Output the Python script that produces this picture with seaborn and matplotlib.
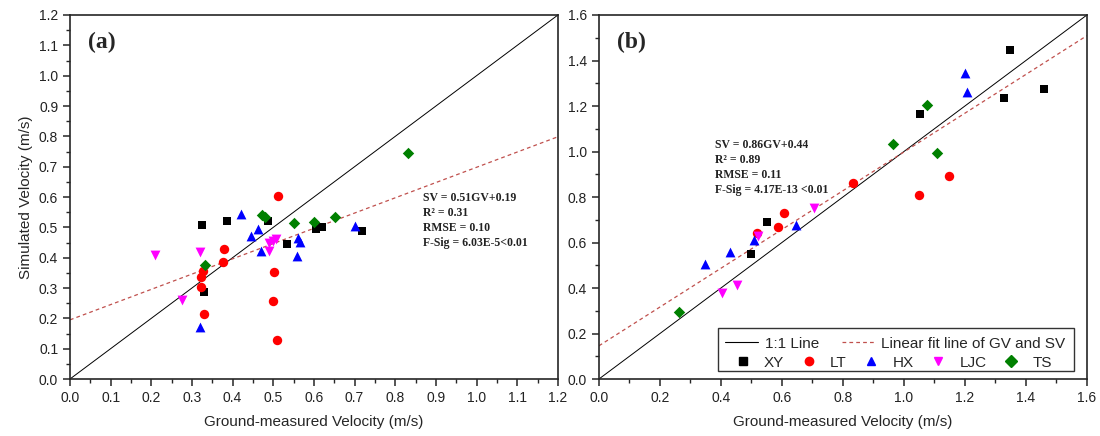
import numpy as np
import pandas as pd
import matplotlib
matplotlib.use("Agg")
import matplotlib.pyplot as plt
import seaborn as sns
from matplotlib.lines import Line2D
from matplotlib.patches import Rectangle
from matplotlib.ticker import MultipleLocator, FormatStrFormatter

# 站点（sites）
SITES = ["XY", "LT", "HX", "LJC", "TS"]

# Panel (a): ground-measured vs simulated velocity
A_XY_GV = [0.325, 0.385, 0.488, 0.534, 0.606, 0.620, 0.718, 0.330]
A_XY_SV = [0.507, 0.521, 0.521, 0.444, 0.496, 0.500, 0.487, 0.287]
A_LT_GV = [0.511, 0.379, 0.377, 0.327, 0.323, 0.323, 0.329, 0.501, 0.500, 0.508]
A_LT_SV = [0.603, 0.430, 0.385, 0.355, 0.335, 0.302, 0.214, 0.352, 0.257, 0.128]
A_HX_GV = [0.421, 0.462, 0.446, 0.469, 0.561, 0.565, 0.558, 0.700, 0.320]
A_HX_SV = [0.543, 0.494, 0.472, 0.423, 0.464, 0.451, 0.406, 0.505, 0.172]
A_LJC_GV = [0.210, 0.320, 0.275, 0.490, 0.507, 0.490, 0.500]
A_LJC_SV = [0.408, 0.419, 0.261, 0.447, 0.462, 0.422, 0.455]
A_TS_GV = [0.473, 0.480, 0.550, 0.600, 0.653, 0.332, 0.832]
A_TS_SV = [0.541, 0.533, 0.513, 0.519, 0.533, 0.376, 0.745]
A_FIT = (0.503, 0.195)
A_STATS = ["SV = 0.51GV+0.19", "R² = 0.31", "RMSE = 0.10", "F-Sig = 6.03E-5<0.01"]

# Panel (b)
B_XY_GV = [1.053, 0.550, 0.500, 1.348, 1.328, 1.459]
B_XY_SV = [1.165, 0.692, 0.551, 1.446, 1.235, 1.276]
B_LT_GV = [1.049, 0.834, 0.608, 0.588, 0.519, 1.148]
B_LT_SV = [0.808, 0.861, 0.731, 0.668, 0.643, 0.892]
B_HX_GV = [0.647, 0.510, 0.429, 0.348, 1.200, 1.208]
B_HX_SV = [0.675, 0.610, 0.560, 0.507, 1.343, 1.263]
B_LJC_GV = [0.704, 0.522, 0.404, 0.453]
B_LJC_SV = [0.750, 0.627, 0.379, 0.414]
B_TS_GV = [1.077, 0.963, 1.110, 0.262]
B_TS_SV = [1.205, 1.034, 0.994, 0.295]
B_FIT = (0.852, 0.146)
B_STATS = ["SV = 0.86GV+0.44", "R² = 0.89", "RMSE = 0.11", "F-Sig = 4.17E-13 <0.01"]

COLORS = {"XY": "black", "LT": "#ff0000", "HX": "#0000ff", "LJC": "#ff00ff", "TS": "#008000"}
MARKERS = {"XY": "s", "LT": "o", "HX": "^", "LJC": "v", "TS": "D"}
MSIZE = {"XY": 38, "LT": 46, "HX": 50, "LJC": 50, "TS": 34}
FIT_COLOR = "#c0504d"


def make_frame(gv_lists, sv_lists):
    rows = []
    for site, gv, sv in zip(SITES, gv_lists, sv_lists):
        for g, s in zip(gv, sv):
            rows.append({"site": site, "gv": g, "sv": s})
    return pd.DataFrame(rows)


df_a = make_frame([A_XY_GV, A_LT_GV, A_HX_GV, A_LJC_GV, A_TS_GV],
                  [A_XY_SV, A_LT_SV, A_HX_SV, A_LJC_SV, A_TS_SV])
df_b = make_frame([B_XY_GV, B_LT_GV, B_HX_GV, B_LJC_GV, B_TS_GV],
                  [B_XY_SV, B_LT_SV, B_HX_SV, B_LJC_SV, B_TS_SV])

sns.set_style("ticks")
plt.rcParams["font.family"] = ["Liberation Sans", "DejaVu Sans"]

fig = plt.figure(figsize=(11, 4.36), dpi=100)
ax_a = fig.add_axes([0.0636, 0.1307, 0.4436, 0.8349])
ax_b = fig.add_axes([0.5445, 0.1307, 0.4436, 0.8349])


def draw_panel(ax, df, lim, major, minor, fit, label, stats, stats_xy):
    xs = np.array([0, lim])
    ax.plot(xs, xs, color="black", lw=0.7, zorder=1)
    ax.plot(xs, fit[0] * xs + fit[1], color=FIT_COLOR, lw=0.9,
            linestyle=(0, (3, 2.5)), zorder=1)
    for site in SITES:
        sub = df[df["site"] == site]
        sns.scatterplot(data=sub, x="gv", y="sv", color=COLORS[site],
                        marker=MARKERS[site], s=MSIZE[site], linewidth=0,
                        ax=ax, legend=False, zorder=3)
    ax.set_xlim(0, lim)
    ax.set_ylim(0, lim)
    ax.xaxis.set_major_locator(MultipleLocator(major))
    ax.xaxis.set_minor_locator(MultipleLocator(minor))
    ax.yaxis.set_major_locator(MultipleLocator(major))
    ax.yaxis.set_minor_locator(MultipleLocator(minor))
    ax.xaxis.set_major_formatter(FormatStrFormatter("%.1f"))
    ax.yaxis.set_major_formatter(FormatStrFormatter("%.1f"))
    ax.tick_params(which="major", direction="out", length=5, width=1.1,
                   labelsize=10, labelcolor="#222222")
    ax.tick_params(which="minor", direction="out", length=3, width=1.0)
    for sp in ax.spines.values():
        sp.set_linewidth(1.2)
        sp.set_visible(True)
    ax.set_xlabel("Ground-measured Velocity (m/s)", fontsize=11, labelpad=7)
    ax.set_ylabel("")
    ax.text(0.037, 0.955, label, transform=ax.transAxes, fontsize=17,
            fontweight="bold", family="Liberation Serif", va="top", ha="left")
    for i, line in enumerate(stats):
        ax.text(stats_xy[0], stats_xy[1] - i * lim * 0.0412, line, fontsize=8.5,
                fontweight="bold", family="Liberation Serif", va="center",
                ha="left", color="#222222")


draw_panel(ax_a, df_a, 1.2, 0.1, 0.05, A_FIT, "(a)", A_STATS, (0.867, 0.597))
draw_panel(ax_b, df_b, 1.6, 0.2, 0.1, B_FIT, "(b)", B_STATS, (0.38, 1.03))
ax_a.set_ylabel("Simulated Velocity (m/s)", fontsize=11, labelpad=4)

# legend in panel (b): lines on top row, site markers on bottom row
box = Rectangle((0.243, 0.022), 0.731, 0.118, transform=ax_b.transAxes,
                facecolor="white", edgecolor="#333333", lw=1.0, zorder=4)
ax_b.add_patch(box)
line_handles = [Line2D([], [], color="black", lw=0.8),
                Line2D([], [], color=FIT_COLOR, lw=0.9, linestyle=(0, (3, 2.5)))]
leg1 = ax_b.legend(line_handles, ["1:1 Line", "Linear fit line of GV and SV"],
                   ncol=2, frameon=False, fontsize=11, handlelength=2.15,
                   columnspacing=1.5, handletextpad=0.45,
                   loc="upper left", bbox_to_anchor=(0.233, 0.150),
                   borderpad=0.3)
leg1.set_zorder(5)
ax_b.add_artist(leg1)
site_handles = [Line2D([], [], color=COLORS[s], marker=MARKERS[s], lw=0,
                       markersize=6) for s in SITES]
leg2 = ax_b.legend(site_handles, SITES, ncol=5, frameon=False, fontsize=11,
                   handlelength=1.0, columnspacing=1.1, handletextpad=0.9,
                   loc="upper left", bbox_to_anchor=(0.254, 0.098),
                   borderpad=0.3)
leg2.set_zorder(5)

fig.savefig("out.png", dpi=100)
